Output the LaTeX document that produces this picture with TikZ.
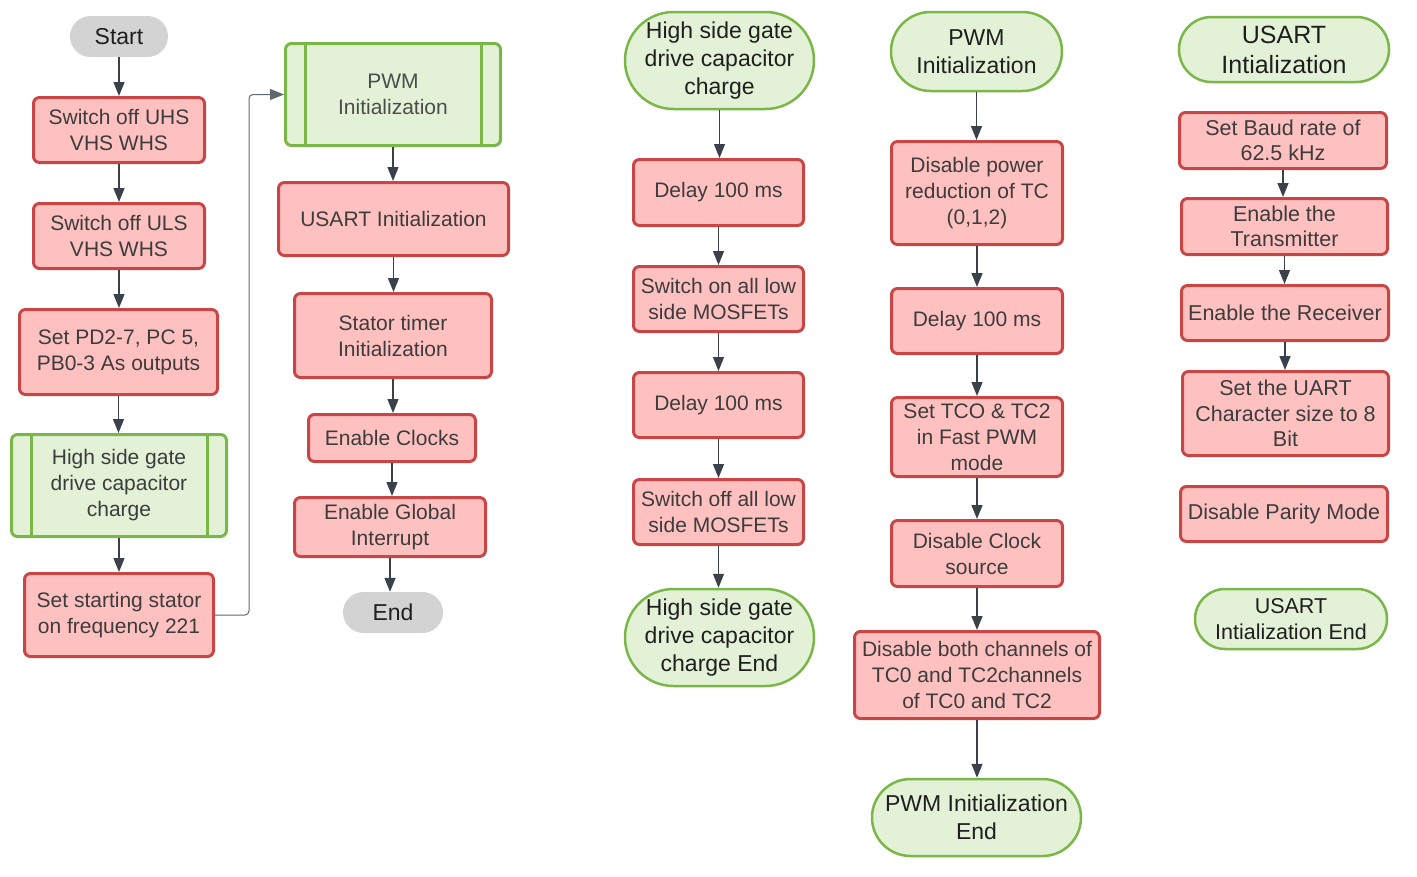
\documentclass[tikz,border=0pt]{standalone}
\usepackage{fontspec}
\setmainfont{Liberation Sans}
\usetikzlibrary{arrows.meta,shapes.misc}
\definecolor{rfill}{HTML}{FFC0C0}
\definecolor{rline}{HTML}{C84646}
\definecolor{gfill}{HTML}{E3F2D7}
\definecolor{gline}{HTML}{7AB648}
\definecolor{gray1}{HTML}{D3D3D3}
\definecolor{arrc}{HTML}{3A414A}
\definecolor{rtext}{HTML}{3C3C3C}
\tikzset{
  rbox/.style={draw=rline, fill=rfill, line width=3pt, rounded corners=6pt, align=center,
    inner sep=0pt, text=rtext, font=\fontsize{21}{26}\selectfont},
  rbox5/.style={rbox, font=\fontsize{21.5}{25.5}\selectfont},
  pbox/.style={draw=gline, fill=gfill, line width=3pt, rounded corners=6pt, align=center,
    inner sep=0pt, text=rtext, font=\fontsize{21}{26}\selectfont},
  term/.style={draw=gline, fill=gfill, line width=2.5pt, rounded rectangle, align=center,
    inner sep=0pt, text=black!88, font=\fontsize{23}{28}\selectfont},
  gterm/.style={fill=gray1, rounded rectangle, align=center, inner sep=0pt,
    text=black!88, font=\fontsize{23}{28}\selectfont},
  arr/.style={draw=arrc, line width=1.4pt, -{Triangle[length=14pt,width=11pt]}},
  conn/.style={draw=arrc!80, line width=1pt, rounded corners=4pt, -{Triangle[length=14pt,width=11pt]}},
}
\begin{document}
\begin{tikzpicture}[x=1pt,y=-1pt]
\useasboundingbox (0,0) rectangle (1417,876);
% Column 1
\node[gterm, minimum width=98, minimum height=41] (start) at (119,36.5) {Start};
\node[rbox, minimum width=171, minimum height=65] (s1) at (119,130) {Switch off UHS\\VHS WHS};
\node[rbox, minimum width=171, minimum height=65] (s2) at (119,236) {Switch off ULS\\VHS WHS};
\node[rbox, minimum width=198, minimum height=85] (s3) at (118.5,352) {Set PD2-7, PC 5,\\PB0-3 As outputs};
\node[pbox, minimum width=215, minimum height=102] (s4) at (119,485.5) {High side gate\\drive capacitor\\charge};
\draw[gline, line width=3pt] ([xshift=21]s4.north west) -- ([xshift=21]s4.south west);
\draw[gline, line width=3pt] ([xshift=-21]s4.north east) -- ([xshift=-21]s4.south east);
\node[rbox, minimum width=189, minimum height=83] (s5) at (119,615) {Set starting stator\\on frequency 221};
% Column 2
\node[pbox, minimum width=215, minimum height=102, text=black!70] (p1) at (393,94.5) {PWM\\Initialization};
\draw[gline, line width=3pt] ([xshift=21]p1.north west) -- ([xshift=21]p1.south west);
\draw[gline, line width=3pt] ([xshift=-21]p1.north east) -- ([xshift=-21]p1.south east);
\node[rbox, minimum width=230, minimum height=73] (u1) at (393.5,219) {USART Initialization};
\node[rbox, minimum width=197, minimum height=84] (st) at (393,335.5) {Stator timer\\Initialization};
\node[rbox, minimum width=167, minimum height=47] (ec) at (392,438) {Enable Clocks};
\node[rbox, minimum width=191, minimum height=59] (eg) at (390,527) {Enable Global\\Interrupt};
\node[gterm, minimum width=100, minimum height=41] (end) at (393,612.5) {End};
% Column 3
\node[term, minimum width=189, minimum height=97] (h0) at (719.5,60.5) {High side gate\\drive capacitor\\charge};
\node[rbox, minimum width=170, minimum height=66] (d1) at (718.5,192.5) {Delay 100 ms};
\node[rbox, minimum width=170, minimum height=65] (w1) at (718.5,299) {Switch on all low\\side MOSFETs};
\node[rbox, minimum width=170, minimum height=65] (d2) at (718.5,405) {Delay 100 ms};
\node[rbox, minimum width=170, minimum height=65] (w2) at (718.5,512) {Switch off all low\\side MOSFETs};
\node[term, minimum width=189, minimum height=97] (he) at (719.5,637.5) {High side gate\\drive capacitor\\charge End};
% Column 4
\node[term, minimum width=171, minimum height=79] (pw) at (976.5,51.5) {PWM\\Initialization};
\node[rbox, minimum width=171, minimum height=103] (dp) at (977,193) {Disable power\\reduction of TC\\(0,1,2)};
\node[rbox, minimum width=171, minimum height=65] (dd) at (977,321) {Delay 100 ms};
\node[rbox, minimum width=171, minimum height=79] (tc) at (977,437) {Set TCO \& TC2\\in Fast PWM\\mode};
\node[rbox, minimum width=171, minimum height=66] (dc) at (977,553.5) {Disable Clock\\source};
\node[rbox, minimum width=245, minimum height=87] (db) at (977,675) {Disable both channels of\\TC0 and TC2channels\\of TC0 and TC2};
\node[term, minimum width=209, minimum height=77] (pe) at (976.5,817.5) {PWM Initialization\\End};
% Column 5
\node[term, minimum width=210, minimum height=65, font=\fontsize{25}{30}\selectfont] (ut) at (1284,49.5) {USART\\Intialization};
\node[rbox5, minimum width=207, minimum height=56] (sb) at (1283,140.5) {Set Baud rate of\\62.5 kHz};
\node[rbox5, minimum width=206, minimum height=56] (et) at (1284.5,226.5) {Enable the\\Transmitter};
\node[rbox5, minimum width=207, minimum height=55] (er) at (1285,313) {Enable the Receiver};
\node[rbox5, minimum width=206, minimum height=84] (ch) at (1285.5,413.5) {Set the UART\\Character size to 8\\Bit};
\node[rbox5, minimum width=207, minimum height=55] (dpm) at (1284,514) {Disable Parity Mode};
\node[term, minimum width=192, minimum height=60, font=\fontsize{21.5}{26}\selectfont] (ue) at (1291,619) {USART\\Intialization End};
% Arrows column 1
\draw[arr] (start.south) -- (start.south |- s1.north);
\draw[arr] (s1.south) -- (s1.south |- s2.north);
\draw[arr] (s2.south) -- (s2.south |- s3.north);
\draw[arr] (s3.south) -- (s3.south |- s4.north);
\draw[arr] (s4.south) -- (s4.south |- s5.north);
\draw[conn] (s5.east) -- ++(34,0) |- (p1.west);
% Column 2
\draw[arr] (p1.south) -- (p1.south |- u1.north);
\draw[arr] (u1.south) -- (u1.south |- st.north);
\draw[arr] (st.south) -- (st.south |- ec.north);
\draw[arr] (ec.south) -- (ec.south |- eg.north);
\draw[arr] (eg.south) -- (eg.south |- end.north);
% Column 3
\draw[arr] (h0.south) -- (h0.south |- d1.north);
\draw[arr] (d1.south) -- (d1.south |- w1.north);
\draw[arr] (w1.south) -- (w1.south |- d2.north);
\draw[arr] (d2.south) -- (d2.south |- w2.north);
\draw[arr] (w2.south) -- (w2.south |- he.north);
% Column 4
\draw[arr] (pw.south) -- (pw.south |- dp.north);
\draw[arr] (dp.south) -- (dp.south |- dd.north);
\draw[arr] (dd.south) -- (dd.south |- tc.north);
\draw[arr] (tc.south) -- (tc.south |- dc.north);
\draw[arr] (dc.south) -- (dc.south |- db.north);
\draw[arr] (db.south) -- (db.south |- pe.north);
% Column 5
\draw[arr] (sb.south) -- (sb.south |- et.north);
\draw[arr] (et.south) -- (et.south |- er.north);
\draw[arr] (er.south) -- (er.south |- ch.north);
\end{tikzpicture}
\end{document}
